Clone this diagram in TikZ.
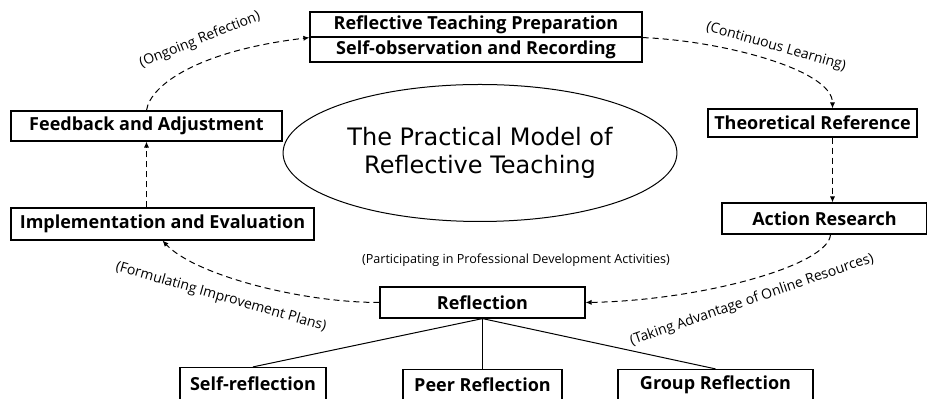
\documentclass[tikz,border=0pt]{standalone}
\usepackage{fontspec}
\setmainfont{Open Sans}
\newfontfamily\titlefont{DejaVu Sans}
\usetikzlibrary{shapes.geometric,arrows.meta}

\begin{document}
\begin{tikzpicture}[x=0.5pt,y=-0.5pt,
  box/.style={draw,line width=0.6pt,inner sep=0pt,font=\bfseries\fontsize{9}{10}\selectfont},
  flow/.style={densely dashed,line width=0.5pt,-{Latex[length=3pt,width=2.6pt]}},
  note/.style={inner sep=0pt,font=\fontsize{7}{8}\selectfont}]
\useasboundingbox (0,0) rectangle (927,399);
% The title in the middle
\node[draw,ellipse,line width=0.5pt,minimum width=157.5pt,minimum height=68.5pt,
  align=center,font=\titlefont\fontsize{12}{14}\selectfont] (title) at (480,153)
  {The Practical Model of\\Reflective Teaching};
% The boxes of the cycle
\node[box,minimum width=166pt,minimum height=12.5pt] (prep) at (476,24.5) {Reflective Teaching Preparation};
\node[box,minimum width=166pt,minimum height=12.5pt] (obs) at (476,49.5) {Self-observation and Recording};
\node[box,minimum width=104.5pt,minimum height=14pt] (theo) at (812.5,123) {Theoretical Reference};
\node[box,minimum width=102.5pt,minimum height=15.5pt] (action) at (824.5,218.5) {Action Research};
\node[box,minimum width=102.5pt,minimum height=15.5pt] (refl) at (482.5,302.5) {Reflection};
\node[box,minimum width=151.5pt,minimum height=16pt] (impl) at (162.5,224) {Implementation and Evaluation};
\node[box,minimum width=135.5pt,minimum height=15pt] (feed) at (146.5,126) {Feedback and Adjustment};
% The kinds of reflection
\node[box,minimum width=73pt,minimum height=16.5pt] (self) at (253,384) {Self-reflection};
\node[box,minimum width=79.5pt,minimum height=15.5pt] (peer) at (482.5,385) {Peer Reflection};
\node[box,minimum width=97.5pt,minimum height=15.5pt] (group) at (715.5,385) {Group Reflection};
\foreach \kind in {self,peer,group}
  \draw[line width=0.5pt] (refl.south) -- (\kind.north);
% The dashed arrows
\draw[flow] (feed.north) .. controls +(4,-26) and +(-110,13) .. (prep.south west);
\draw[flow] (prep.south east) .. controls +(78,3) and +(0,-39) .. ([xshift=10pt]theo.north);
\draw[flow] ([xshift=10pt]theo.south) -- ([xshift=10pt]theo.south |- action.north);
\draw[flow] ([xshift=3pt]action.south) .. controls +(-2,31) and +(115,-2) .. (refl.east);
\draw[flow] (refl.west) .. controls +(-80,0) and +(32,34) .. (impl.south);
\draw[flow] (feed.south |- impl.north) -- (feed.south);
% The labels along the arrows
\node[note,rotate=22] (ongoing) at (200,40) {(Ongoing Refection)};
\node[note,rotate=-16] (learning) at (776,47) {(Continuous Learning)};
\node[note,rotate=19] (online) at (752,300) {(Taking Advantage of Online Resources)};
\node[note,rotate=-16] (plans) at (221,297) {(Formulating Improvement Plans)};
\node[note,font=\fontsize{6.3}{8}\selectfont] (activities) at (516,260) {(Participating in Professional Development Activities)};
\end{tikzpicture}
\end{document}
